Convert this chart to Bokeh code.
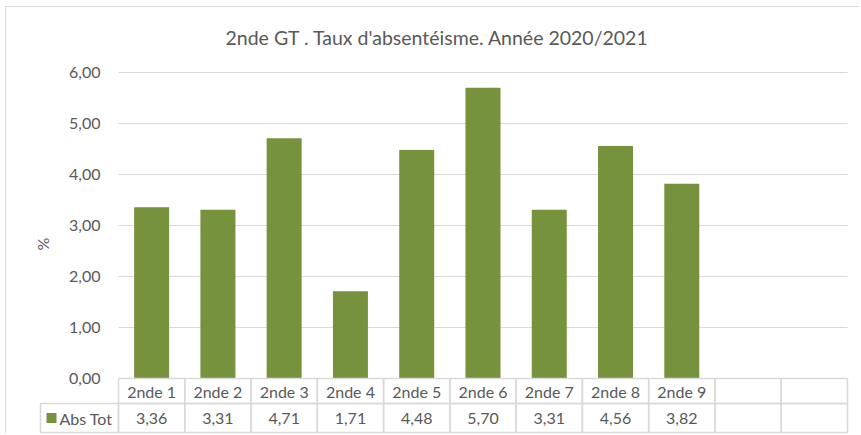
from bokeh.plotting import figure
from bokeh.models import LinearAxis, FixedTicker, Range1d
from bokeh.core.properties import value
from bokeh.embed import file_html
from bokeh.resources import INLINE

# ---- data ----
categories = ["2nde 1", "2nde 2", "2nde 3", "2nde 4", "2nde 5", "2nde 6", "2nde 7", "2nde 8", "2nde 9"]
abs_tot = [3.36, 3.31, 4.71, 1.71, 4.48, 5.70, 3.31, 4.56, 3.82]
empty_columns = 2
y_ticks = [0, 1, 2, 3, 4, 5, 6]
y_tick_labels = ["0,00", "1,00", "2,00", "3,00", "4,00", "5,00", "6,00"]
series_name = "Abs Tot"
title_text = "2nde GT . Taux d'absentéisme. Année 2020/2021"

# ---- style / layout ----
FONT = "Lato"
TXT = "#595959"
GRID = "#d9d9d9"
GREEN = "#76923C"
W, H = 854, 427
TOP = 46            # title panel height (px)
PX_PER_UNIT = 51.0  # vertical px per % unit
COL_PX = 66.27      # px per category column
LEFT_PX = 112       # px from figure left to first column
ROW1 = 25 / PX_PER_UNIT
ROW2 = 29 / PX_PER_UNIT
ZERO_PX = 371       # figure y of the zero line
LEG_PX = 78         # width of legend cell in px

n_cols = len(categories) + empty_columns
y_top = (ZERO_PX - TOP) / PX_PER_UNIT
y_bottom = -(H - ZERO_PX) / PX_PER_UNIT
x_start = -0.5 - LEFT_PX / COL_PX
x_end = x_start + W / COL_PX

p = figure(width=W, height=H, output_backend="svg", toolbar_location=None,
           x_range=Range1d(x_start, x_end), y_range=Range1d(y_bottom, y_top),
           x_axis_location=None, y_axis_location=None,
           min_border_left=0, min_border_right=0, min_border_bottom=0, min_border_top=TOP,
           title=title_text)
p.title.align = "left"
p.title.offset = 219
p.title.standoff = 10
p.title.text_font = FONT
p.title.text_font_size = "19.5px"
p.title.text_font_style = "normal"
p.title.text_color = TXT
p.outline_line_color = None
p.xgrid.visible = False
p.ygrid.visible = False
p.styles = {"margin-left": "6px", "margin-top": "7px", "box-shadow": "-1px -1px 0 0 #d9d9d9"}

# gridlines (only across the plot area columns)
p.segment(x0=[-0.5] * len(y_ticks), x1=[n_cols - 0.5] * len(y_ticks),
          y0=y_ticks, y1=y_ticks, line_color=GRID, line_width=1)

# bars
xs = list(range(len(categories)))
p.vbar(x=xs, top=abs_tot, bottom=0, width=35 / COL_PX, fill_color=GREEN, line_color=None)

# y axis placed at the plot area's left edge
yax = LinearAxis(fixed_location=-0.5, ticker=FixedTicker(ticks=y_ticks),
                 major_label_overrides={t: l for t, l in zip(y_ticks, y_tick_labels)})
yax.axis_line_color = None
yax.major_tick_line_color = None
yax.minor_tick_line_color = None
yax.major_label_standoff = 12
yax.major_label_text_font = FONT
yax.major_label_text_font_size = "16px"
yax.major_label_text_color = TXT
yax.axis_label = "%"
yax.axis_label_text_font = FONT
yax.axis_label_text_font_size = "16px"
yax.axis_label_text_font_style = "normal"
yax.axis_label_text_color = TXT
yax.axis_label_standoff = 14
p.add_layout(yax, "left")

# data table
cols = list(range(n_cols))
head_labels = categories + [""] * empty_columns
val_labels = [f"{v:.2f}".replace(".", ",") for v in abs_tot] + [""] * empty_columns
p.rect(x=cols, y=[-ROW1 / 2] * n_cols, width=1, height=ROW1,
       fill_color=None, line_color=GRID, line_width=1.5)
p.rect(x=cols, y=[-ROW1 - ROW2 / 2] * n_cols, width=1, height=ROW2,
       fill_color=None, line_color=GRID, line_width=1.5)
leg_w = LEG_PX / COL_PX
p.rect(x=[-0.5 - leg_w / 2], y=[-ROW1 - ROW2 / 2], width=leg_w, height=ROW2,
       fill_color=None, line_color=GRID, line_width=1.5)

p.text(x=cols, y=[-ROW1 / 2] * n_cols, text=head_labels, text_align="center",
       text_baseline="middle", text_font=value(FONT), text_font_size="16px", text_color=TXT)
p.text(x=cols, y=[-ROW1 - ROW2 / 2] * n_cols, text=val_labels, text_align="center",
       text_baseline="middle", text_font=value(FONT), text_font_size="16px", text_color=TXT)

# legend key inside the table
p.scatter(x=[-0.5 - leg_w + 11 / COL_PX], y=[-ROW1 - ROW2 / 2], marker="square", size=10,
          fill_color=GREEN, line_color=None)
p.text(x=[-0.5 - leg_w + 19 / COL_PX], y=[-ROW1 - ROW2 / 2], text=[series_name], text_align="left",
       text_baseline="middle", text_font=value(FONT), text_font_size="16px", text_color=TXT)

open("out.html", "w").write(file_html(p, INLINE))
